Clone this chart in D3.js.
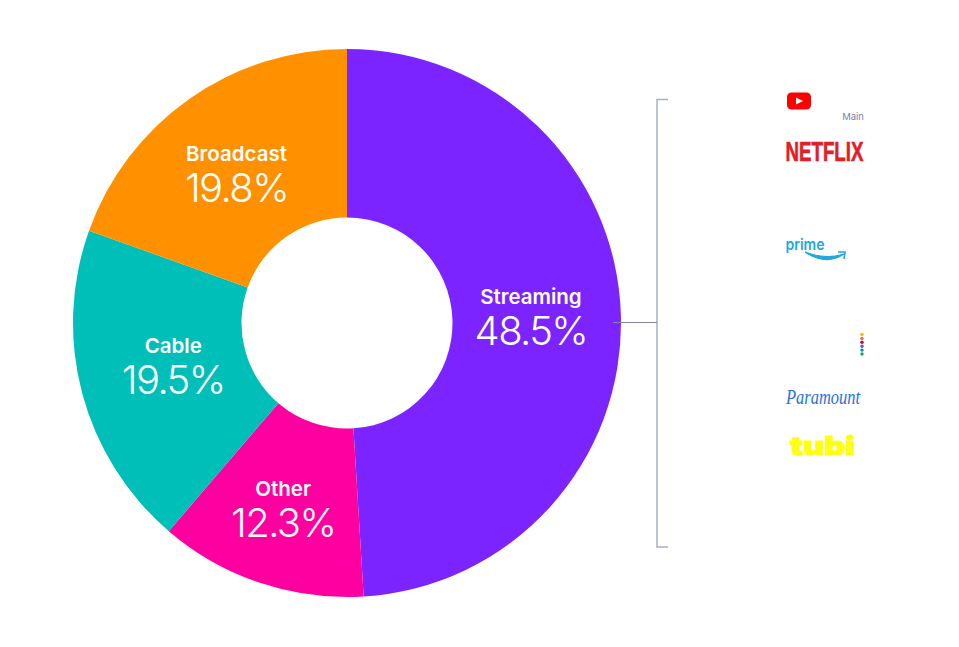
<!DOCTYPE html>
<html>
<head>
<meta charset="utf-8">
<title>Share of viewing</title>
<style>
* { margin: 0; padding: 0; }
body { background: #fff; }
svg { display: block; font-family: Inter, sans-serif; }
text.name { font-size: 20.5px; font-weight: 600; fill: #fff; text-anchor: middle; }
text.pct { font-size: 40px; font-weight: 300; letter-spacing: -1.6px; fill: #fff; text-anchor: middle; }
</style>
<script src="https://cdn.jsdelivr.net/npm/d3@7"></script>
</head>
<body>
<svg id="chart" width="959" height="647"></svg>
<script>
var categories = ["Streaming", "Other", "Cable", "Broadcast"];
var shareLabels = ["48.5%", "12.3%", "19.5%", "19.8%"];
// slice sizes as drawn, they don't quite follow the printed labels
var sliceSizes = [49.03, 12.24, 19.2, 19.53];
var colors = ["#7b24ff", "#ff00a0", "#00bfb8", "#ff9000"];
var peacock = ["#fcb711", "#f37021", "#cc004c", "#6460aa", "#0089d0", "#0db14b"];

var svg = d3.select("#chart");
var cx = 347, cy = 323;

var pie = d3.pie().sort(null).value(function(d) { return d; });
var arc = d3.arc().innerRadius(105.5).outerRadius(274);
// label offsets from the arc centroid
var labelDx = [-1, -5, 5, -4], labelDy = [4, 15, 0, 6];

var g = svg.append("g").attr("transform", "translate(" + cx + "," + cy + ")");
var slices = pie(sliceSizes);

g.selectAll("path").data(slices).enter().append("path")
  .attr("d", arc)
  .attr("fill", function(d, i) { return colors[i]; });

var labelArc = d3.arc().innerRadius(185).outerRadius(185);
slices.forEach(function(d, i) {
  var c = labelArc.centroid(d);
  g.append("text").attr("class", "name")
    .attr("x", c[0] + labelDx[i]).attr("y", c[1] - 17 + labelDy[i])
    .text(categories[i]);
  g.append("text").attr("class", "pct")
    .attr("x", c[0] + labelDx[i]).attr("y", c[1] + 24 + labelDy[i])
    .text(shareLabels[i]);
});

// bracket
svg.append("path")
  .attr("d", "M668,99.5H657V547H668")
  .attr("fill", "none").attr("stroke", "#a9afc8").attr("stroke-width", 1.5);
svg.append("line")
  .attr("x1", 613).attr("x2", 657).attr("y1", 322.5).attr("y2", 322.5)
  .attr("stroke", "#7d88ad").attr("stroke-width", 1);

// logos
var logos = svg.append("g");

logos.append("rect").attr("x", 787).attr("y", 92.5).attr("width", 24).attr("height", 17)
  .attr("rx", 4.5).attr("fill", "#ff0000");
logos.append("path").attr("d", "M796,97.5L803,101L796,104.5Z").attr("fill", "#fff");
logos.append("text").attr("x", 864).attr("y", 120).attr("text-anchor", "end")
  .attr("font-size", 9.5).attr("fill", "#7882aa").text("Main");

logos.append("text").attr("x", 785.5).attr("y", 161).attr("textLength", 78)
  .attr("lengthAdjust", "spacingAndGlyphs")
  .attr("font-family", "Liberation Sans").attr("font-weight", 700)
  .attr("font-size", 28).attr("fill", "#e02027")
  .attr("stroke", "#e02027").attr("stroke-width", 0.6).text("NETFLIX");

logos.append("text").attr("x", 785.5).attr("y", 250).attr("textLength", 39)
  .attr("lengthAdjust", "spacingAndGlyphs")
  .attr("font-size", 15.5).attr("font-weight", 600).attr("fill", "#1ea7e0").text("prime");
logos.append("path").attr("d", "M805,252Q826,266 844,254Q826,260 805,252Z")
  .attr("fill", "#1ea7e0").attr("stroke", "#1ea7e0").attr("stroke-width", 1.2);
logos.append("path").attr("d", "M838,252L845,252L844,259")
  .attr("fill", "none").attr("stroke", "#1ea7e0").attr("stroke-width", 1.6);

logos.selectAll("circle.dot").data(peacock).enter().append("circle")
  .attr("class", "dot")
  .attr("cx", 862)
  .attr("cy", function(d, i) { return 334.5 + i * 3.9; })
  .attr("r", 1.7)
  .attr("fill", function(d) { return d; });

logos.append("text").attr("x", 786).attr("y", 404).attr("textLength", 74)
  .attr("lengthAdjust", "spacingAndGlyphs")
  .attr("font-family", "Liberation Serif").attr("font-style", "italic")
  .attr("font-size", 21).attr("fill", "#2a6fe0").text("Paramount");

logos.append("text").attr("x", 790).attr("y", 455).attr("textLength", 65)
  .attr("lengthAdjust", "spacingAndGlyphs")
  .attr("font-weight", 900).attr("font-size", 26).attr("fill", "#ffff13")
  .attr("stroke", "#ffff13").attr("stroke-width", 1).text("tubi");
</script>
</body>
</html>
